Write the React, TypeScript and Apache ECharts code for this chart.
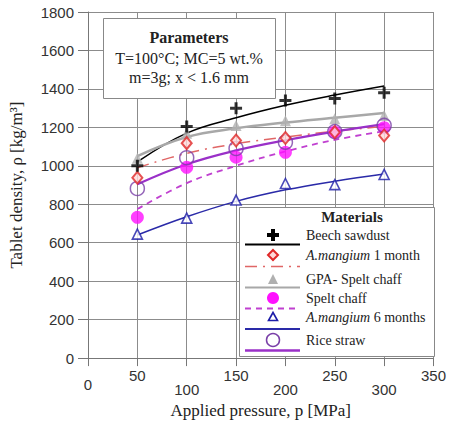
import React, { useEffect, useRef } from "react";
import * as echarts from "echarts";

const pressures = [50, 100, 150, 200, 250, 300];
const beech = [1000, 1205, 1300, 1340, 1350, 1380];
const beechFit = [1020, 1170, 1250, 1315, 1368, 1415];
const mangium1 = [938, 1118, 1132, 1145, 1175, 1158];
const mangium1Fit = [990, 1065, 1115, 1150, 1180, 1205];
const gpaSpelt = [1040, 1170, 1210, 1235, 1245, 1262];
const gpaSpeltFit = [1050, 1150, 1195, 1225, 1250, 1275];
const spelt = [732, 992, 1045, 1070, 1175, 1198];
const speltFit = [775, 910, 1000, 1075, 1135, 1180];
const mangium6 = [645, 728, 822, 908, 902, 955];
const mangium6Fit = [640, 735, 815, 875, 920, 957];
const rice = [882, 1042, 1090, 1123, 1178, 1210];
const riceFit = [904, 1008, 1080, 1133, 1178, 1217];

const xTicks = [0, 50, 100, 150, 200, 250, 300, 350];

const SERIF = "'Liberation Serif', 'Times New Roman', serif";
const SANS = "'Liberation Sans', Arial, sans-serif";

const PLUS = "path://M4.5,0h3v4.5h4.5v3h-4.5v4.5h-3v-4.5h-4.5v-3h4.5z";

const pairs = (ys: number[]) => pressures.map((x, i) => [x, ys[i]]);

export default function App() {
  const ref = useRef<HTMLDivElement>(null);
  useEffect(() => {
    if (!ref.current) return;
    const chart = echarts.init(ref.current, undefined, { renderer: "svg" });

    const fitLine = (data: number[], color: string, width: number, dash?: any) => ({
      type: "line",
      data: pairs(data),
      smooth: 0.4,
      symbol: "none",
      showSymbol: false,
      lineStyle: { color, width, type: dash || "solid" },
      z: 2,
      silent: true,
    });
    const pts = (data: number[], symbol: string, size: any, itemStyle: any) => ({
      type: "scatter",
      data: pairs(data),
      symbol,
      symbolSize: size,
      itemStyle,
      z: 5,
      silent: true,
    });

    const lx1 = 245, lx2 = 300, tx = 306;
    const legendText = (y: number, text: string) => ({
      type: "text",
      x: tx,
      y,
      z: 101,
      style: {
        text,
        fontFamily: SERIF,
        fontSize: 14,
        fill: "#222",
        verticalAlign: "middle",
        rich: { i: { fontStyle: "italic", fontFamily: SERIF, fontSize: 14, fill: "#222" } },
      },
    });
    const legendLine = (y: number, color: string, width: number, dash?: number[]) => ({
      type: "line",
      z: 101,
      shape: { x1: lx1, y1: y, x2: lx2, y2: y },
      style: { stroke: color, lineWidth: width, lineDash: dash },
    });

    const option: any = {
      animation: false,
      grid: { left: 88, right: 14, top: 12, bottom: 63, containLabel: false },
      xAxis: {
        type: "value",
        min: 0,
        max: 350,
        interval: 50,
        name: "Applied pressure, p [MPa]",
        nameLocation: "middle",
        nameGap: 43,
        nameTextStyle: { fontFamily: SERIF, fontSize: 17, color: "#222" },
        axisLine: { show: true, lineStyle: { color: "#777", width: 1 } },
        axisTick: { show: true, length: 8, lineStyle: { color: "#777" } },
        axisLabel: {
          margin: 10,
          fontFamily: SANS,
          fontSize: 15,
          color: "#333",
          formatter: (v: number) => {
            const idx = xTicks.indexOf(v);
            if (v === 0) return "{z|0}";
            return idx % 2 === 1 ? `{a|${v}}` : `{b|${v}}`;
          },
          rich: {
            a: { fontFamily: SANS, fontSize: 15, color: "#333", padding: [0, 0, 0, 0] },
            b: { fontFamily: SANS, fontSize: 15, color: "#333", padding: [14, 0, 0, 0] },
            z: { fontFamily: SANS, fontSize: 15, color: "#333", padding: [9, 0, 0, 0] },
          },
        },
        splitLine: { show: true, lineStyle: { color: "#8c8c8c", width: 1 } },
      },
      yAxis: {
        type: "value",
        min: 0,
        max: 1800,
        interval: 200,
        name: "Tablet density, ρ [kg/m³]",
        nameLocation: "middle",
        nameGap: 63,
        nameTextStyle: { fontFamily: SERIF, fontSize: 17, color: "#222" },
        axisLine: { show: true, lineStyle: { color: "#777", width: 1 } },
        axisTick: { show: true, length: 10, lineStyle: { color: "#777" } },
        axisLabel: {
          margin: 14,
          fontFamily: SANS,
          fontSize: 15,
          color: "#333",
          formatter: (v: number) => String(v),
        },
        splitLine: { show: true, lineStyle: { color: "#8c8c8c", width: 1 } },
      },
      series: [
        fitLine(beechFit, "#000", 1.5),
        fitLine(gpaSpeltFit, "#a8a8a8", 2.5),
        fitLine(mangium1Fit, "#e06666", 1.5, [12, 6, 2, 6]),
        fitLine(speltFit, "#c040d0", 1.8, [6, 5]),
        fitLine(mangium6Fit, "#2a2aa8", 1.5),
        fitLine(riceFit, "#9a30c8", 2.2),
        pts(gpaSpelt, "triangle", 11, { color: "#b0b0b0" }),
        pts(spelt, "circle", 13, { color: "#ff10ff" }),
        pts(rice, "circle", 14, { color: "rgba(255,255,255,0)", borderColor: "#7a40a8", borderWidth: 1.5 }),
        pts(mangium1, "diamond", [10, 12], { color: "#ffd8d8", borderColor: "#e02828", borderWidth: 2 }),
        pts(mangium6, "triangle", 10, { color: "#fff", borderColor: "#1c1ca8", borderWidth: 1.6 }),
        pts(beech, PLUS, 12, { color: "#000" }),
      ],
      graphic: [
        {
          type: "rect",
          z: 100,
          shape: { x: 103.5, y: 18.5, width: 172, height: 80 },
          style: { fill: "#fff", stroke: "#888", lineWidth: 1 },
        },
        {
          type: "text",
          z: 101,
          x: 189,
          y: 37,
          style: { text: "Parameters", fontFamily: SERIF, fontSize: 16, fontWeight: "bold", fill: "#222", align: "center", verticalAlign: "middle" },
        },
        {
          type: "text",
          z: 101,
          x: 189,
          y: 58,
          style: { text: "T=100°C; MC=5 wt.%", fontFamily: SERIF, fontSize: 16, fill: "#222", align: "center", verticalAlign: "middle" },
        },
        {
          type: "text",
          z: 101,
          x: 189,
          y: 77,
          style: { text: "m=3g; x < 1.6 mm", fontFamily: SERIF, fontSize: 16, fill: "#222", align: "center", verticalAlign: "middle" },
        },
        {
          type: "rect",
          z: 100,
          shape: { x: 239.5, y: 207.5, width: 195, height: 149 },
          style: { fill: "#fff", stroke: "#888", lineWidth: 1 },
        },
        {
          type: "text",
          z: 101,
          x: 352,
          y: 217,
          style: { text: "Materials", fontFamily: SERIF, fontSize: 15, fontWeight: "bold", fill: "#222", align: "center", verticalAlign: "middle" },
        },
        // Beech sawdust
        { type: "polygon", z: 101, shape: { points: [[271, 229], [275, 229], [275, 233], [279, 233], [279, 237], [275, 237], [275, 241], [271, 241], [271, 237], [267, 237], [267, 233], [271, 233]] }, style: { fill: "#000" } },
        legendText(235, "Beech sawdust"),
        legendLine(244.5, "#000", 2),
        // A.mangium 1 month
        { type: "polygon", z: 101, shape: { points: [[273, 250], [278, 255], [273, 260], [268, 255]] }, style: { fill: "#ffd8d8", stroke: "#e02828", lineWidth: 2 } },
        legendText(255, "{i|A.mangium} 1 month"),
        legendLine(266.5, "#e06666", 1.5, [12, 6, 2, 6]),
        // GPA
        { type: "polygon", z: 101, shape: { points: [[273, 274], [278, 284], [268, 284]] }, style: { fill: "#b0b0b0" } },
        legendText(279, "GPA- Spelt chaff"),
        legendLine(287.5, "#a8a8a8", 2),
        // Spelt chaff
        { type: "circle", z: 101, shape: { cx: 273, cy: 298, r: 6 }, style: { fill: "#ff10ff" } },
        legendText(298, "Spelt chaff"),
        legendLine(308.5, "#c040d0", 1.8, [6, 5]),
        // A.mangium 6 months
        { type: "polygon", z: 101, shape: { points: [[273, 312.5], [277.5, 320.5], [268.5, 320.5]] }, style: { fill: "#fff", stroke: "#1c1ca8", lineWidth: 1.6 } },
        legendText(317, "{i|A.mangium} 6 months"),
        legendLine(329, "#2a2aa8", 1.8),
        // Rice straw
        { type: "circle", z: 101, shape: { cx: 273, cy: 340, r: 6.5 }, style: { fill: "#fff", stroke: "#7a40a8", lineWidth: 1.5 } },
        legendText(340, "Rice straw"),
        legendLine(350.5, "#9a30c8", 2.5),
      ],
    };
    chart.setOption(option);
    return () => chart.dispose();
  }, []);

  return (
    <div
      ref={ref}
      style={{ position: "absolute", left: 0, top: 0, width: 449, height: 424, background: "#fff" }}
    />
  );
}
